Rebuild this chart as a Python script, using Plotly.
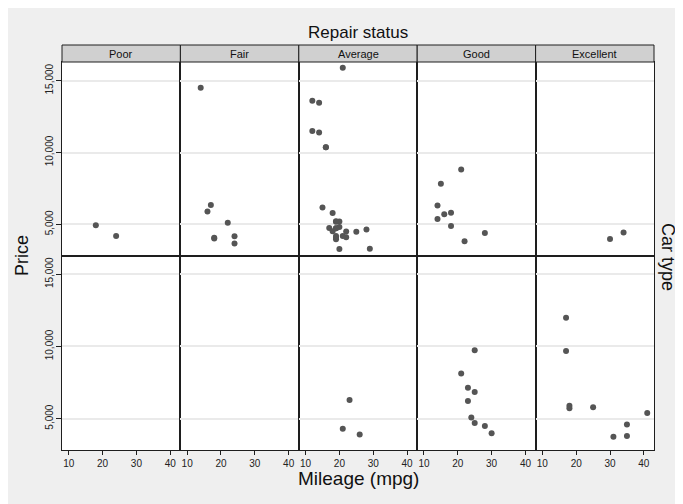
import plotly.graph_objects as go

# ---- data (Stata auto: price vs mileage by repair record and car type) ----
rep_labels = ["Poor", "Fair", "Average", "Good", "Excellent"]
type_labels = ["Domestic", "Foreign"]

dom_price = [4099, 4749, 4816, 7827, 5788, 5189, 10372, 4082, 11385, 14500, 15906, 3299,
             5705, 4504, 5104, 3667, 3955, 3984, 4010, 5886, 6342, 4389, 4187, 11497,
             13594, 13466, 3829, 5379, 6165, 4516, 6303, 3291, 8814, 5172, 4733, 4890,
             4181, 4195, 10371, 4647, 4425, 4482, 4060, 5798, 4934, 5222, 4723, 4172]
dom_mpg = [22, 17, 20, 15, 18, 20, 16, 19, 14, 14, 21, 29,
           16, 22, 22, 24, 19, 30, 18, 16, 17, 28, 21, 12,
           12, 14, 22, 14, 15, 18, 14, 20, 21, 19, 19, 18,
           19, 24, 16, 28, 34, 25, 18, 18, 18, 19, 19, 24]
dom_rep = [3, 3, 3, 4, 3, 3, 3, 3, 3, 2, 3, 3,
           4, 3, 2, 2, 3, 5, 2, 2, 2, 4, 3, 3,
           3, 3, 4, 4, 3, 3, 4, 3, 4, 3, 3, 4,
           3, 1, 3, 3, 5, 3, 2, 4, 1, 3, 3, 2]

for_price = [9690, 6295, 9735, 6229, 4589, 5079, 8129, 4296, 5799, 4499, 3995,
             3895, 3798, 5899, 3748, 5719, 7140, 5397, 4697, 6850, 11995]
for_mpg = [17, 23, 25, 23, 35, 24, 21, 21, 25, 28, 30,
           26, 35, 18, 31, 18, 23, 41, 25, 25, 17]
for_rep = [5, 3, 4, 4, 5, 4, 4, 3, 5, 4, 4,
           3, 5, 5, 5, 5, 4, 5, 4, 4, 5]

x_ticks = [10, 20, 30, 40]
y_ticks = [5000, 10000, 15000]
y_ticktext = ["5,000", "10,000", "15,000"]

# ---- styling ----
# the page body has an 8px margin, so the figure starts 8px in from the window corner
OFF = 8
W, H = 683 - OFF, 504 - OFF
L, R, T, B = 62 - OFF, W - (654 - OFF), 45 - OFF, H - (450 - OFF)
PW, PH = W - L - R, H - T - B
line_col = "#1e1e1e"
grid_col = "#eaeaea"
dot_col = "#555555"
strip_col = "#d0d0d0"
bg_col = "#efefef"
FONT = "Liberation Sans, Arial, sans-serif"

def py2paper(py):
    # py: pixel row in the window
    return (H - B - (py - OFF)) / PH

def px2paper(px):
    return ((px - OFF) - L) / PW

strip_bottom = py2paper(62)
row_split = py2paper(255.5)
row_domains = [[row_split, strip_bottom], [0.0, row_split]]

fig = go.Figure()
layout = {}
groups = [(dom_mpg, dom_price, dom_rep), (for_mpg, for_price, for_rep)]
for r, (mpg, price, rep) in enumerate(groups):
    for c in range(5):
        idx = r * 5 + c + 1
        xs = [m for m, k in zip(mpg, rep) if k == c + 1]
        ys = [p for p, k in zip(price, rep) if k == c + 1]
        xa = "x" if idx == 1 else f"x{idx}"
        ya = "y" if idx == 1 else f"y{idx}"
        fig.add_trace(go.Scatter(
            x=xs, y=ys, mode="markers", xaxis=xa, yaxis=ya,
            marker=dict(color=dot_col, size=6, line=dict(width=0)),
            showlegend=False, hoverinfo="x+y"))
        bottom = (r == 1)
        left = (c == 0)
        layout["xaxis" if idx == 1 else f"xaxis{idx}"] = dict(
            domain=[c / 5, (c + 1) / 5], anchor=ya, range=[8, 43],
            showgrid=False, zeroline=False, showline=True, mirror=True,
            linecolor=line_col, linewidth=1,
            tickmode="array", tickvals=x_ticks,
            ticks="outside" if bottom else "", ticklen=4, tickcolor=line_col,
            showticklabels=bottom,
            tickfont=dict(family=FONT, size=10, color="#222"))
        layout["yaxis" if idx == 1 else f"yaxis{idx}"] = dict(
            domain=row_domains[r], anchor=xa, range=[2830, 16300],
            showgrid=True, gridcolor=grid_col, gridwidth=1.5,
            zeroline=False, showline=True, mirror=True,
            linecolor=line_col, linewidth=1,
            tickmode="array", tickvals=y_ticks, ticktext=y_ticktext,
            ticks="outside" if left else "", ticklen=5, tickcolor=line_col,
            showticklabels=left, tickangle=-90, ticklabelstandoff=-1,
            tickfont=dict(family=FONT, size=10, color="#222"))

shapes = []
annotations = []
for c, lab in enumerate(rep_labels):
    shapes.append(dict(type="rect", xref="paper", yref="paper", x0=c / 5, x1=(c + 1) / 5,
                       y0=strip_bottom, y1=1.0, fillcolor=strip_col,
                       line=dict(color=line_col, width=1)))
    annotations.append(dict(text=lab, xref="paper", yref="paper", x=(c + 0.5) / 5,
                            y=(strip_bottom + 1) / 2, showarrow=False,
                            xanchor="center", yanchor="middle",
                            font=dict(family=FONT, size=11, color="#111")))

annotations += [
    dict(text="Repair status", xref="paper", yref="paper", x=0.5, y=py2paper(33),
         showarrow=False, xanchor="center", yanchor="middle",
         font=dict(family=FONT, size=17, color="#111")),
    dict(text="Mileage (mpg)", xref="paper", yref="paper", x=0.5, y=py2paper(478),
         showarrow=False, xanchor="center", yanchor="middle",
         font=dict(family=FONT, size=19, color="#111")),
    dict(text="Price", xref="paper", yref="paper", x=px2paper(22), y=py2paper(256),
         showarrow=False, xanchor="center", yanchor="middle", textangle=-90,
         font=dict(family=FONT, size=18, color="#111")),
    dict(text="Car type", xref="paper", yref="paper", x=px2paper(668), y=py2paper(257),
         showarrow=False, xanchor="center", yanchor="middle", textangle=90,
         font=dict(family=FONT, size=18, color="#111")),
]

fig.update_layout(
    width=W, height=H,
    margin=dict(l=L, r=R, t=T, b=B, pad=0),
    paper_bgcolor=bg_col, plot_bgcolor="white",
    shapes=shapes, annotations=annotations,
    showlegend=False, font=dict(family=FONT),
    **layout)

fig.write_html("out.html")
